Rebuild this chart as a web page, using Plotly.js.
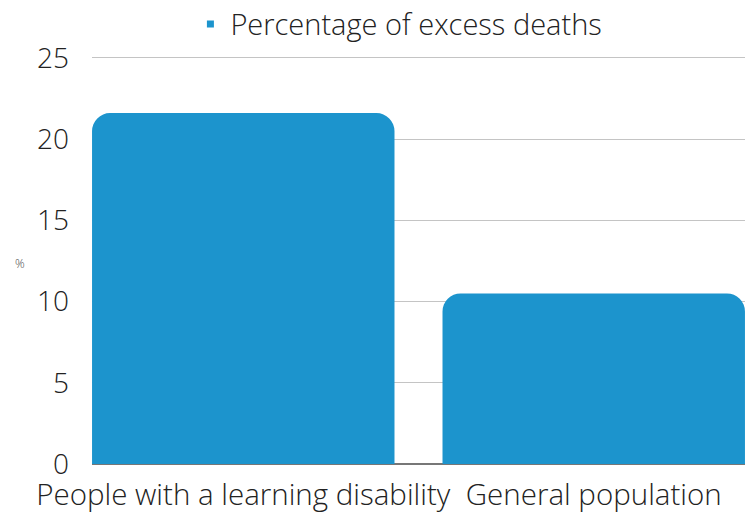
<!DOCTYPE html>
<html>
<head>
<meta charset="utf-8">
<script src="https://cdn.plot.ly/plotly-3.0.1.min.js"></script>
<style>html,body{margin:0;padding:0;background:#fff;}#chart{width:745px;height:512px;}</style>
</head>
<body>
<div id="chart"></div>
<script>
const categories = ["People with a learning disability", "General population"];
const excessDeaths = [21.6, 10.5];
const seriesName = "Percentage of excess deaths";
const yTicks = [0, 5, 10, 15, 20, 25];
const barColor = "#1c94cd";

const barTrace = {
  type: "bar",
  x: [0, 1],
  y: excessDeaths,
  name: seriesName,
  width: 0.863,
  marker: {color: barColor, cornerradius: 18},
  showlegend: false,
  hoverinfo: "none"
};
const legendTrace = {
  type: "scatter", mode: "markers",
  x: [null], y: [null],
  name: seriesName,
  marker: {symbol: "square", size: 7, color: barColor},
  showlegend: true, hoverinfo: "none"
};

const layout = {
  width: 745, height: 512,
  margin: {l: 92, r: 0, t: 53, b: 48, autoexpand: false},
  paper_bgcolor: "#fff", plot_bgcolor: "#fff",
  font: {family: "Open Sans, sans-serif", color: "#222", weight: 300},
  showlegend: true,
  legend: {orientation: "h", x: 0.47, xanchor: "center", y: 1.07, yanchor: "middle",
           font: {size: 29, color: "#222", weight: 300}, itemwidth: 30, itemsizing: "trace"},
  xaxis: {
    range: [-0.4316, 1.4316],
    tickvals: [0, 1], ticktext: categories,
    tickfont: {size: 29.5, color: "#222", weight: 300},
    showgrid: false, zeroline: false, automargin: false,
    showline: false, ticks: "", ticklabelstandoff: 10
  },
  yaxis: {
    range: [0, 25.3], tickvals: yTicks, automargin: false,
    tickfont: {size: 28, color: "#222", weight: 300},
    showgrid: true, gridcolor: "#c4c4c4", gridwidth: 1,
    zeroline: true, zerolinecolor: "#777", zerolinewidth: 1.5,
    ticks: "", ticklabelstandoff: 22, showline: false
  },
  annotations: [{
    text: "%", xref: "paper", yref: "paper", x: -0.11, y: 0.488,
    xanchor: "center", yanchor: "middle", showarrow: false,
    font: {size: 12, color: "#444", weight: 300}
  }]
};

Plotly.newPlot("chart", [barTrace, legendTrace], layout, {displayModeBar: false, staticPlot: true});
</script>
</body>
</html>
